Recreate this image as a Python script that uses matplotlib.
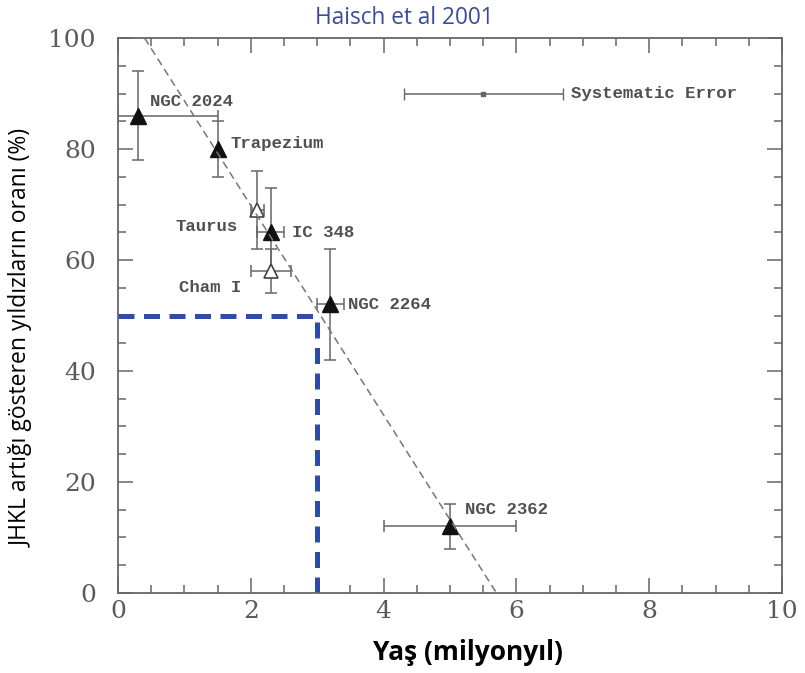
import matplotlib.pyplot as plt
from matplotlib.ticker import MultipleLocator

# cluster ages (Myr) and disk fractions (%)
names = ["NGC 2024", "Trapezium", "Taurus", "IC 348", "Cham I", "NGC 2264", "NGC 2362"]
age = [0.3, 1.5, 2.1, 2.3, 2.3, 3.2, 5.0]
frac = [86, 80, 69, 65, 58, 52, 12]
frac_lo = [8, 5, 7, 8, 4, 10, 4]
frac_hi = [8, 5, 7, 8, 4, 10, 4]
age_lo = [0.3, 0.0, 0.1, 0.2, 0.3, 0.2, 1.0]
age_hi = [1.2, 0.0, 0.1, 0.2, 0.3, 0.2, 1.0]
filled = [True, True, False, True, False, True, True]

# label anchor points in data units
lab_x = [0.48, 1.69, 1.8, 2.62, 1.85, 3.46, 5.23]
lab_y = [88.6, 81, 66, 65, 55, 52, 15]
lab_ha = ["left", "left", "right", "left", "right", "left", "left"]

sys_x, sys_y, sys_err = 5.5, 90, 1.2
fit_x = [0.4, 5.7]
fit_y = [100, 0]
mark_age, mark_frac = 3, 50

fig = plt.figure(figsize=(8.05, 6.73), dpi=100)
ax = fig.add_axes([0.1466, 0.1189, 0.8248, 0.8246])

gray = "#666666"
txt = "#505050"
for i in range(len(names)):
    ax.errorbar(age[i], frac[i], yerr=[[frac_lo[i]], [frac_hi[i]]],
                xerr=[[age_lo[i]], [age_hi[i]]] if age_lo[i] + age_hi[i] > 0 else None,
                fmt="none", ecolor=gray, elinewidth=1.1, capsize=4, capthick=1.1)
    if filled[i]:
        ax.plot(age[i], frac[i], marker="^", ms=11, color="#111111", ls="none")
    else:
        ax.plot(age[i], frac[i], marker="^", ms=10, mfc="white", mec="#444444",
                mew=1.2, ls="none")
    ax.text(lab_x[i], lab_y[i], names[i], family="Liberation Mono", ha=lab_ha[i],
            fontweight="bold", fontsize=12.5, color=txt, va="center")

ax.errorbar(sys_x, sys_y, xerr=sys_err, fmt="s", ms=3, color=gray, ecolor=gray,
            elinewidth=1.1, capsize=4)
ax.text(sys_x + sys_err + 0.12, sys_y, "Systematic Error", family="Liberation Mono",
        fontweight="bold", fontsize=12.5, color=txt, va="center")

ax.plot(fit_x, fit_y, ls=(0, (5, 3)), color="#777777", lw=1.1)

ax.plot([0, mark_age], [mark_frac, mark_frac], ls=(0, (3.2, 1.9)), color="#2d4ca8", lw=3.6)
ax.plot([mark_age, mark_age], [0, mark_frac], ls=(0, (3.2, 1.9)), color="#2d4ca8", lw=3.6)

ax.set_xlim(0, 10)
ax.set_ylim(0, 100)
ax.xaxis.set_major_locator(MultipleLocator(2))
ax.xaxis.set_minor_locator(MultipleLocator(0.5))
ax.yaxis.set_major_locator(MultipleLocator(20))
ax.yaxis.set_minor_locator(MultipleLocator(5))
ax.tick_params(which="both", direction="in", top=True, right=True, color=gray)
ax.tick_params(which="major", length=11, width=1.1)
ax.tick_params(which="minor", length=6, width=1.1)
ax.tick_params(axis="both", labelsize=18, labelcolor="#5a5a5a")
ax.tick_params(axis="x", pad=5)
ax.tick_params(axis="y", pad=16)
for lab in ax.get_xticklabels() + ax.get_yticklabels():
    lab.set_family("DejaVu Serif")
for sp in ax.spines.values():
    sp.set_color(gray)
    sp.set_linewidth(1.3)

fig.text(0.502, 0.973, "Haisch et al 2001", fontsize=16.3, color="#3b4b9c",
         family="Open Sans", ha="center", va="center")
fig.text(0.581, 0.031, "Yaş (milyonyıl)", fontsize=19, fontweight="bold",
         family="Open Sans", ha="center", va="center")
fig.text(0.027, 0.498, "JHKL artığı gösteren yıldızların oranı (%)", fontsize=16.5,
         family="Open Sans", rotation=90, ha="center", va="center")

fig.savefig("out.png", dpi=100)
